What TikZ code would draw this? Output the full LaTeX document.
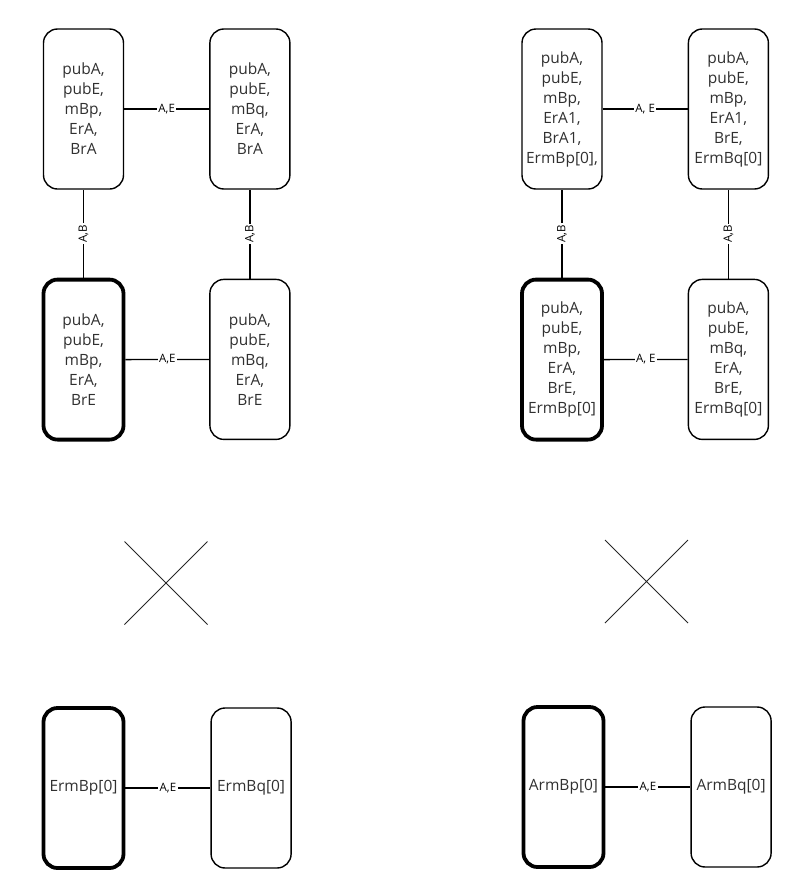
\documentclass[tikz,border=0pt]{standalone}
\usepackage{fontspec}
\setmainfont{Open Sans}
\usetikzlibrary{positioning}
\definecolor{txtgray}{HTML}{303030}
\tikzset{
	party/.style={draw, rounded corners=14pt, line width=1.4pt, minimum width=80pt, minimum height=160pt, align=center, text=txtgray, font=\fontsize{15.5}{20}\selectfont, inner sep=1pt},
	marked/.style={party, line width=3.8pt},
	chan/.style={fill=white, text=black, font=\fontsize{11.5}{13}\selectfont, inner sep=1.5pt},
	cross/.style={line width=0.9pt, black!85},
}

\begin{document}
\begin{tikzpicture}[x=1pt, y=-1pt, line width=1.4pt]
	\useasboundingbox (0,0) rectangle (810,887);

	% left panel
	\node[party] (a) at (83.5,109) {pubA,\\pubE,\\mBp,\\ErA,\\BrA};
	\node[party, right=85pt of a] (b) {pubA,\\pubE,\\mBq,\\ErA,\\BrA};
	\node[marked, below=88pt of a] (c) {pubA,\\pubE,\\mBp,\\ErA,\\BrE};
	\node[party, below=89pt of b] (d) {pubA,\\pubE,\\mBq,\\ErA,\\BrE};
	\node[marked] (e) at (83.5,788) {ErmBp[0]};
	\node[party, right=85pt of e] (f) {ErmBq[0]};
	\coordinate (x1) at (166,583);

	% right panel
	\node[party] (g) at (562,109) {pubA,\\pubE,\\mBp,\\ErA1,\\BrA1,\\ErmBp[0],};
	\node[party, right=85pt of g] (h) {pubA,\\pubE,\\mBp,\\ErA1,\\BrE,\\ErmBq[0]};
	\node[marked, below=88pt of g] (i) {pubA,\\pubE,\\mBp,\\ErA,\\BrE,\\ErmBp[0]};
	\node[party, below=89pt of h] (l) {pubA,\\pubE,\\mBq,\\ErA,\\BrE,\\ErmBq[0]};
	\node[marked] (m) at (563.5,787) {ArmBp[0]};
	\node[party, right=85pt of m] (n) {ArmBq[0]};
	\coordinate (x2) at (646.5,581.5);

	\draw (a) -- node[chan] {A,E} (b);
	\draw (c) -- node[chan] {A,E} (d);
	\draw (c) -- node[chan, rotate=90] {A,B} (a);
	\draw (d) -- node[chan, rotate=90] {A,B} (b);
	\draw (e) -- node[chan] {A,E} (f);

	\draw (g) -- node[chan] {A, E} (h);
	\draw (i) -- node[chan] {A, E} (l);
	\draw (i) -- node[chan, rotate=90] {A,B} (g);
	\draw (l) -- node[chan, rotate=90] {A,B} (h);
	\draw (m) -- node[chan] {A,E} (n);

	\draw[cross] (x1) +(-41.5,-41.5) -- +(41.5,41.5) (x1) +(-41.5,41.5) -- +(41.5,-41.5);
	\draw[cross] (x2) +(-41.5,-41.5) -- +(41.5,41.5) (x2) +(-41.5,41.5) -- +(41.5,-41.5);
\end{tikzpicture}
\end{document}
